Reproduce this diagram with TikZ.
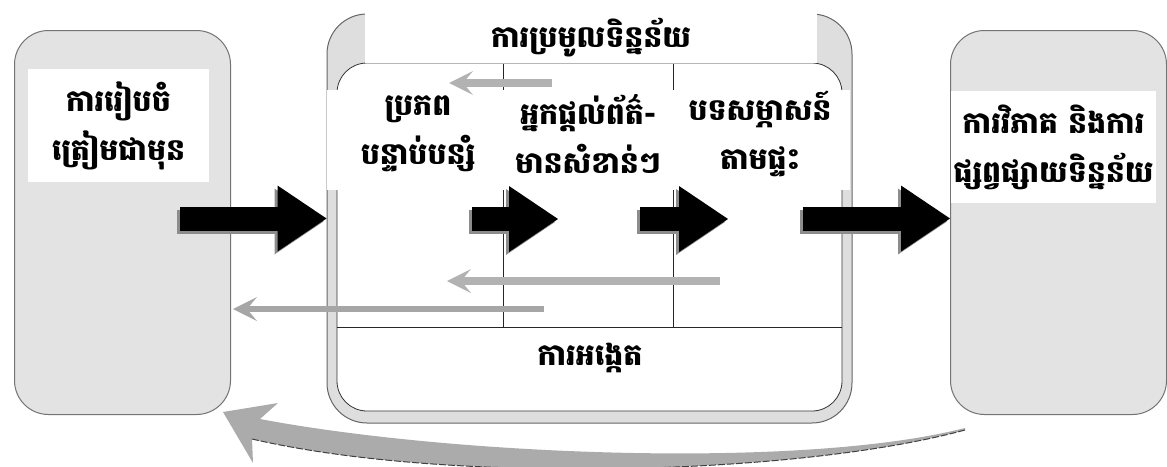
\documentclass[tikz,border=0pt]{standalone}
\usepackage{fontspec}
\newfontfamily\khmerfont[Script=Khmer]{Battambang}
\usetikzlibrary{arrows.meta}
\definecolor{boxgray}{gray}{0.89}
\definecolor{ringgray}{gray}{0.87}
\definecolor{backgray}{gray}{0.70}
\tikzset{
  khtext/.style={align=center,font=\khmerfont\bfseries\fontsize{30}{49}\selectfont,inner sep=0pt},
  stagebox/.style={draw=black!55,fill=boxgray,line width=1pt,rounded corners=34pt,
    minimum width=216pt,minimum height=384pt,anchor=north west},
  labelbox/.style={fill=white,inner sep=0pt},
  bigarrow/.style={line width=24pt,-{Triangle[length=49pt,width=66pt,line width=0pt]}},
  arrowshadow/.style={bigarrow,black!45,transform canvas={shift={(-3pt,-3pt)}}},
  backarrow/.style={backgray,line width=8pt,-{Stealth[length=24pt,width=24pt,inset=10pt,line width=0pt]}},
}
\begin{document}
\begin{tikzpicture}[x=1pt,y=-1pt]
    \useasboundingbox (0,0) rectangle (1167,466);
    %% stages left and right
    \node[stagebox] (prep) at (14,30) {};
    \node[stagebox] (analysis) at (950,30) {};
    \node[labelbox,khtext,minimum width=181pt,minimum height=113pt] (preplabel) at (118.5,125.5) {ការរៀបចំ\\ត្រៀមជាមុន};
    \node[labelbox,khtext,minimum width=205pt,minimum height=112pt] (analysislabel) at (1053.5,147) {ការវិភាគ និងការ\\ផ្សព្វផ្សាយទិន្នន័យ};
    %% data collection
    \node[draw=black!60,fill=ringgray,line width=1pt,rounded corners=40pt,
      minimum width=525pt,minimum height=409pt] (collect) at (589.5,218.5) {};
    \node[draw=black!80,fill=white,line width=0.8pt,rounded corners=30pt,
      minimum width=505pt,minimum height=348pt] (inner) at (589.5,237) {};
    \node[labelbox,khtext,minimum width=452pt,minimum height=51pt] (head) at (591,37.5) {ការប្រមូលទិន្នន័យ};
    \draw[black!85,line width=1pt] (503,63.5) -- (503,327);
    \draw[black!85,line width=1pt] (673,63.5) -- (673,327);
    \draw[black!85,line width=1pt] (inner.west |- 0,327) -- (inner.east |- 0,327);
    \node[labelbox,minimum width=523pt,minimum height=100pt] (band) at (588.5,140) {};
    \node[khtext] (source) at (418,134) {ប្រភព\\បន្ទាប់បន្សំ};
    \node[khtext] (keyinfo) at (588,134) {អ្នកផ្តល់ព័ត៌-\\មានសំខាន់ៗ};
    \node[khtext] (household) at (760,134) {បទសម្ភាសន៍\\តាមផ្ទះ};
    \node[khtext] (survey) at (590,358) {ការអង្កេត};
    %% forward arrows
    \coordinate (s0) at ([xshift=-51pt]prep.east |- collect.west);
    \coordinate (e0) at (collect.west);
    \coordinate (s1) at (472,219);
    \coordinate (e1) at (558,219);
    \coordinate (s2) at (640,219);
    \coordinate (e2) at (728,219);
    \coordinate (s3) at ([xshift=-50pt]collect.east);
    \coordinate (e3) at (analysis.west |- collect.east);
    \foreach \s/\e in {s0/e0,s1/e1,s2/e2,s3/e3} {
        \draw[arrowshadow] (\s) -- (\e);
        \draw[bigarrow] (\s) -- (\e);
    }
    %% feedback arrows
    \coordinate (b1) at (552,83);
    \coordinate (b1e) at (449,83);
    \coordinate (b2) at (720,281);
    \coordinate (b2e) at (447,281);
    \coordinate (b3) at (544,309);
    \draw[backarrow] (b1) -- (b1e);
    \draw[backarrow] (b2) -- (b2e);
    \draw[backarrow,black!35,line width=6pt] (b3) -- ([xshift=2pt]prep.east |- b3);
    %% return arrow
    \fill[black!33] (223,412) -- (278,403) -- (260,419) .. controls (450,455) and (800,470) .. (965,428)
      -- (965,430) .. controls (800,475) and (450,485) .. (252,439) -- (253,463) -- cycle;
    \draw[black!75,line width=1pt,dash pattern=on 7pt off 2pt] (965,430) .. controls (800,475) and (450,485) .. (252,439);
\end{tikzpicture}
\end{document}
